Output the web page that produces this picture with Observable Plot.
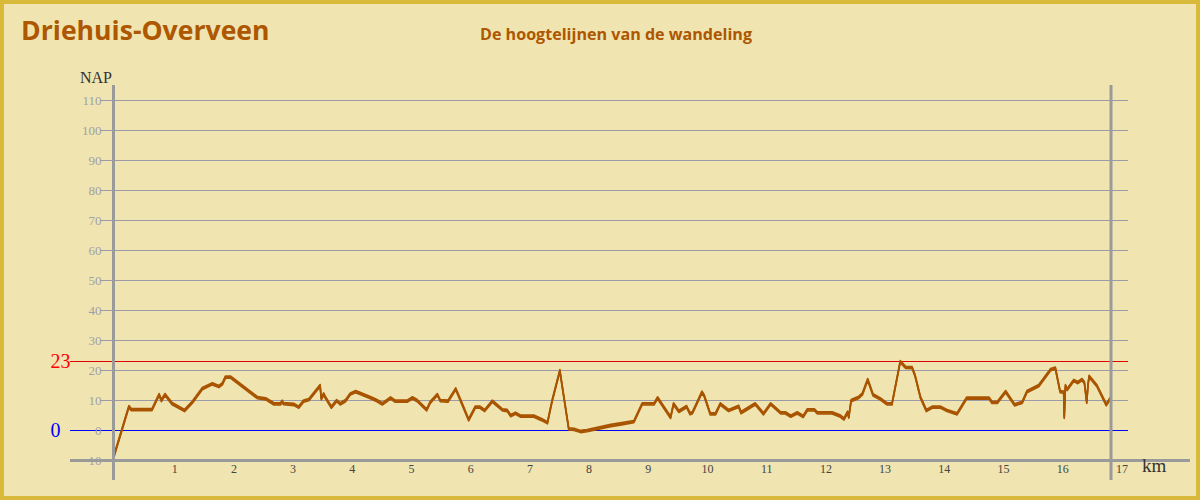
<!DOCTYPE html>
<html><head><meta charset="utf-8">
<script src="https://cdn.jsdelivr.net/npm/d3@7"></script>
<script src="https://cdn.jsdelivr.net/npm/@observablehq/plot@0.6"></script>
<style>
body{margin:0;background:#f0e4b0;}
#page{position:relative;width:1200px;height:500px;background:#f0e4b0;box-shadow:inset 0 0 0 4px #d8b93a;overflow:hidden;}
#title{position:absolute;left:21px;top:12px;font:bold 26.6px "Open Sans",sans-serif;color:#ad5700;white-space:nowrap;}
#subtitle{position:absolute;left:480px;top:23px;font:bold 16.1px "Open Sans",sans-serif;color:#ad5700;white-space:nowrap;}
#nap{position:absolute;left:80px;top:69px;font:16px "Liberation Serif",serif;color:#333;}
#km{position:absolute;left:1142px;top:455px;font:19px "Liberation Serif",serif;color:#333;}
#chart{position:absolute;left:0;top:0;}
</style></head>
<body>
<div id="page">
  <div id="chart"></div>
  <div id="title">Driehuis-Overveen</div>
  <div id="subtitle">De hoogtelijnen van de wandeling</div>
  <div id="nap">NAP</div>
  <div id="km">km</div>
</div>
<script>
const kmValues = [0, 0.26, 0.30, 0.65, 0.77, 0.81, 0.87, 0.99, 1.20, 1.33, 1.50, 1.67, 1.78, 1.84, 1.89, 1.98,
  2.43, 2.57, 2.71, 2.82, 2.85, 2.87, 3.05, 3.13, 3.21, 3.30, 3.49, 3.51, 3.55, 3.58, 3.68, 3.77, 3.83, 3.92,
  4.00, 4.09, 4.34, 4.45, 4.54, 4.68, 4.76, 4.96, 5.05, 5.13, 5.29, 5.35, 5.47, 5.52, 5.65, 5.78, 5.86,
  6.00, 6.11, 6.19, 6.27, 6.40, 6.57, 6.65, 6.71, 6.79, 6.88, 7.10, 7.24, 7.33, 7.41, 7.54, 7.57, 7.69, 7.78,
  7.89, 8.00, 8.40, 8.56, 8.79, 8.93, 9.13, 9.19, 9.41, 9.46, 9.55, 9.68, 9.74, 9.78, 9.94, 9.98,
  10.08, 10.17, 10.25, 10.39, 10.56, 10.60, 10.84, 10.98, 11.10, 11.27, 11.35, 11.44, 11.55, 11.65, 11.72,
  11.84, 11.89, 12.14, 12.28, 12.34, 12.40, 12.42, 12.46, 12.59, 12.65, 12.74, 12.83, 12.95, 13.07, 13.15,
  13.29, 13.38, 13.49, 13.54, 13.63, 13.73, 13.83, 13.97, 14.08, 14.25, 14.41, 14.79, 14.84, 14.93, 15.07,
  15.22, 15.35, 15.43, 15.63, 15.83, 15.91, 15.99, 16.05, 16.06, 16.08, 16.11, 16.22, 16.29, 16.36, 16.40,
  16.44, 16.46, 16.48, 16.61, 16.77, 16.85];
const napValues = [-9, 8, 7, 7, 12, 10, 12, 9, 6.7, 9.4, 14, 15.6, 14.7, 15.6, 17.8, 17.8,
  11, 10.6, 8.9, 8.9, 9.8, 9, 8.7, 7.8, 9.8, 10.3, 15, 10.6, 12.2, 11, 7.8, 10, 8.9, 10,
  12.2, 13, 11, 10, 8.9, 10.9, 9.8, 9.8, 10.9, 10, 6.9, 9.4, 12, 10, 9.8, 13.9, 10.2,
  3.6, 7.8, 7.8, 6.7, 9.8, 6.9, 6.7, 5, 5.8, 4.8, 4.8, 3.6, 2.6, 10, 20, 16, 0.6, 0.4,
  -0.3, 0, 1.7, 2.2, 3, 8.9, 8.9, 10.9, 4.4, 8.9, 6.4, 8, 5.6, 6, 12.8, 11.5,
  5.6, 5.6, 8.9, 6.7, 8.1, 6, 8.9, 5.6, 8.9, 5.9, 5.9, 4.8, 5.9, 4.7, 6.9,
  6.9, 5.9, 5.9, 4.8, 3.9, 6.1, 4.5, 10, 11.1, 12.2, 17, 11.9, 10.6, 8.9, 8.9,
  23, 21.1, 21, 18.3, 11.1, 6.7, 7.8, 7.8, 6.7, 5.6, 10.8, 10.8, 9.4, 9.4, 13,
  8.6, 9.4, 13, 15, 20.3, 20.8, 13, 12.8, 4.4, 15, 13.7, 16.7, 16, 17, 16,
  9.4, 15, 18.1, 15, 8.6, 11.1];
const yTicks = [-10, 0, 10, 20, 30, 40, 50, 60, 70, 80, 90, 100, 110];
const gridLevels = [10, 20, 30, 40, 50, 60, 70, 80, 90, 100, 110];
const xTicks = [1, 2, 3, 4, 5, 6, 7, 8, 9, 10, 11, 12, 13, 14, 15, 16, 17];
const highLevel = [23];
const zeroLevel = [0];

const profile = kmValues.map((km, i) => ({km, nap: napValues[i]}));
const endKm = kmValues[kmValues.length - 1];
const brown = "#a85400";
const serif = "Liberation Serif";

const chart = Plot.plot({
  width: 1200, height: 500,
  marginLeft: 113, marginRight: 80.6, marginTop: 100, marginBottom: 40,
  x: {domain: [0, 17], label: null},
  y: {domain: [-10, 110], label: null},
  style: {background: "transparent", overflow: "visible"},
  marks: [
    Plot.ruleY(gridLevels, {stroke: "#9a9aa8", strokeWidth: 1, insetLeft: -13, insetRight: -8.6}),
    Plot.ruleY(highLevel, {stroke: "#e00000", strokeWidth: 1, insetLeft: -43, insetRight: -8.6}),
    Plot.ruleY(zeroLevel, {stroke: "#0000ff", strokeWidth: 1, insetLeft: -43, insetRight: -8.6}),
    Plot.axisY(yTicks, {tickSize: 0, tickPadding: 12, fontFamily: serif, fontSize: 13, fill: "#a0a0aa"}),
    Plot.axisX(xTicks, {tickSize: 0, tickPadding: 4, fontFamily: serif, fontSize: 12, fill: "#444", dx: 2}),
    Plot.line(profile, {x: "km", y: "nap", stroke: brown, strokeWidth: 1.6, dy: -1}),
    Plot.line(profile, {x: "km", y: "nap", stroke: brown, strokeWidth: 1.6, dy: 0.1}),
    Plot.line(profile, {x: "km", y: "nap", stroke: brown, strokeWidth: 1.6, dy: 1.2}),
    Plot.ruleY([-10], {stroke: "#9a9a9a", strokeWidth: 3, insetLeft: -43, insetRight: -70.6}),
    Plot.ruleX([0], {stroke: "#9a9a9a", strokeWidth: 3, insetTop: -15, insetBottom: -20}),
    Plot.ruleX([endKm], {stroke: "#9a9a9a", strokeWidth: 3, insetTop: -15, insetBottom: -20}),
    Plot.text(highLevel, {y: d => d, text: d => String(d), frameAnchor: "left", dx: -63, textAnchor: "start", fill: "#ff0000", fontSize: 20, fontFamily: serif}),
    Plot.text(zeroLevel, {y: d => d, text: d => String(d), frameAnchor: "left", dx: -63, textAnchor: "start", fill: "#0000ff", fontSize: 20, fontFamily: serif})
  ]
});
document.getElementById("chart").appendChild(chart);
</script>
</body></html>
